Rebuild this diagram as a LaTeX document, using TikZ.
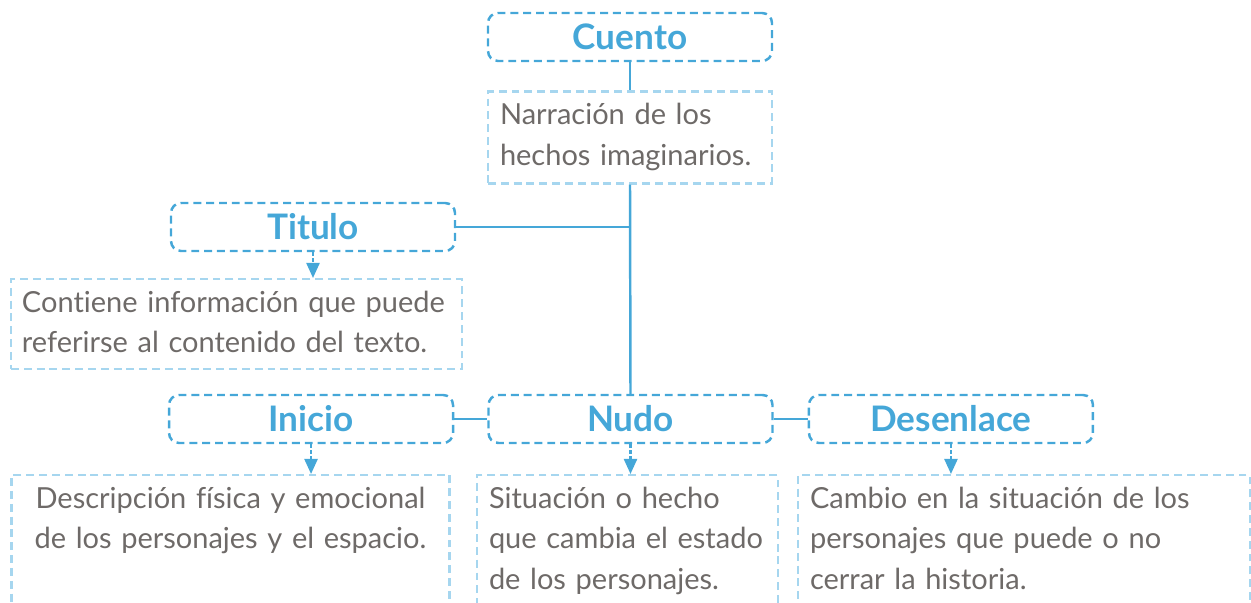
\documentclass[tikz,border=0pt]{standalone}
\usepackage{fontspec}
\setmainfont{Lato}[Ligatures=NoCommon]
\usetikzlibrary{positioning,arrows.meta}
\definecolor{cuentoblue}{HTML}{45A7D8}
\definecolor{cuentopale}{HTML}{A6D6EF}
\definecolor{cuentotext}{HTML}{6E6A68}

\begin{document}
\begin{tikzpicture}[
  x=0.2mm, y=-0.2mm,
  head/.style={draw=cuentoblue, line width=1.4pt, dash pattern=on 4.5pt off 2.8pt, rounded corners=2mm,
    text=cuentoblue, font=\fontsize{20}{24}\selectfont\bfseries, minimum width=56.8mm, minimum height=9.6mm, inner sep=0pt},
  desc/.style={draw=cuentopale, line width=1.4pt, dash pattern=on 4.5pt off 2.8pt, anchor=north,
    text=cuentotext, font=\fontsize{16.5}{23.2}\selectfont, align=left, inner xsep=2.4mm, inner ysep=2mm, text height=4.6mm},
  link/.style={draw=cuentoblue, line width=1.4pt},
  down/.style={draw=cuentoblue, line width=1.3pt, dash pattern=on 2pt off 1.4pt, -{Triangle[length=3mm, width=2.6mm]}}
]
\clip (0,0) rectangle (1251,603);
% top: cuento
\node[head] (cuento) at (630,37) {Cuento};
\node[desc, text width=52mm, text depth=9.8mm, below=5.6mm of cuento] (narr) {Narración de los\\hechos imaginarios.};
% left branch: titulo
\node[head] (titulo) at (313,227) {Titulo};
\node[desc, text width=85.8mm, text depth=9.4mm, inner xsep=2.2mm] (contiene) at (236.5,278)
  {Contiene información que puede\\referirse al contenido del texto.};
% bottom row
\node[head] (nudo) at (630.5,419) {Nudo};
\node[head, left=6.6mm of nudo] (inicio) {Inicio};
\node[head, right=6.8mm of nudo] (desenlace) {Desenlace};
\node[desc, text width=82.8mm, align=center, text depth=26mm] (descripcion) at (230.5,474)
  {Descripción física y emocional\\de los personajes y el espacio.};
\node[desc, text width=57mm, inner xsep=1.6mm, text depth=26mm] (situacion) at (627.5,474)
  {\hspace*{0.8mm}Situación o hecho\\\hspace*{0.8mm}que cambia el estado\\\hspace*{0.8mm}de los personajes.};
\node[desc, text width=85.6mm, text depth=26mm] (cambio) at (1024,474)
  {Cambio en la situación de los\\personajes que puede o no\\cerrar la historia.};

\draw[link] (cuento) -- (narr);
\draw[link] (narr.south) -- (nudo.north);
\draw[link] (titulo.east) -- (titulo.east -| narr.south);
\draw[link] (inicio) -- (nudo);
\draw[link] (nudo) -- (desenlace);
\draw[down] (titulo.south) -- (titulo.south |- contiene.north);
\draw[down] (inicio.south) -- (inicio.south |- descripcion.north);
\draw[down] (nudo.south) -- (nudo.south |- situacion.north);
\draw[down] (desenlace.south) -- (desenlace.south |- cambio.north);
\end{tikzpicture}
\end{document}
